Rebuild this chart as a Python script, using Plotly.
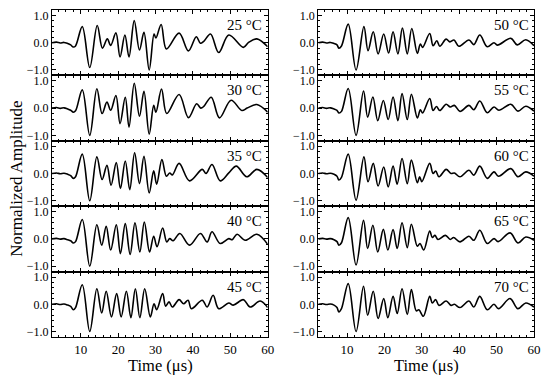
import plotly.graph_objects as go
from plotly.subplots import make_subplots

# ---- data ----
T25 = [2.3, 3.5, 4.5, 5.5, 6.5, 7.3, 8.0, 8.6, 10.4, 12.4, 14.4, 15.8, 17.1, 18.0, 19.4, 20.5, 21.8, 22.9, 24.3, 25.7, 26.9, 28.3, 29.6, 30.1, 31.5, 32.9, 36.3, 38.8, 40.9, 42.0, 42.9, 44.7, 46.9, 49.6, 53.5, 54.9, 57.1, 60]
A25 = [0.0, 0.02, -0.01, 0.01, -0.03, -0.08, -0.16, -0.12, 0.59, -0.91, 0.63, -0.2, 0.14, -0.1, 0.36, -0.52, 0.28, -0.52, 0.81, -0.27, 0.38, -1.0, 0.32, 0.17, 0.67, -0.23, 0.35, -0.3, 0.22, -0.02, 0.05, 0.32, -0.36, 0.28, -0.17, 0.01, 0.14, -0.15]

T30 = [2.3, 3.5, 4.5, 5.5, 6.5, 7.3, 8.0, 8.6, 10.4, 12.4, 14.3, 15.7, 17.0, 18.0, 19.4, 20.5, 21.9, 22.9, 24.3, 25.7, 26.9, 28.3, 29.5, 30.1, 31.6, 33.0, 36.3, 38.8, 41.0, 42.1, 42.9, 44.9, 47.1, 50.2, 53.1, 54.5, 57.1, 60]
A30 = [0.0, 0.02, -0.01, 0.01, -0.03, -0.08, -0.15, -0.1, 0.67, -1.0, 0.71, -0.2, 0.22, -0.08, 0.46, -0.57, 0.4, -0.7, 0.91, -0.3, 0.62, -0.96, 0.1, -0.15, 0.7, -0.2, 0.5, -0.35, 0.16, 0.0, 0.06, 0.4, -0.36, 0.29, -0.09, 0.0, 0.13, -0.15]

T35 = [2.3, 3.5, 4.5, 5.5, 6.5, 7.3, 8.0, 8.6, 10.4, 12.4, 14.3, 15.7, 17.0, 18.1, 19.5, 20.6, 21.9, 23.1, 24.4, 25.7, 26.9, 28.3, 29.5, 30.3, 31.7, 32.9, 33.8, 34.5, 36.3, 39.1, 42.5, 43.5, 45.1, 47.3, 49.6, 51.6, 54.4, 57.1, 60]
A35 = [0.0, 0.02, -0.01, 0.01, -0.03, -0.08, -0.18, -0.12, 0.71, -1.0, 0.61, -0.22, 0.3, -0.43, 0.4, -0.55, 0.46, -0.59, 0.76, -0.37, 0.63, -0.71, 0.1, -0.39, 0.51, -0.1, 0.02, -0.05, 0.37, -0.27, 0.15, 0.0, 0.33, -0.27, 0.02, 0.27, -0.12, 0.15, -0.15]

T40 = [2.3, 3.5, 4.5, 5.5, 6.5, 7.3, 8.0, 8.6, 10.4, 12.4, 14.3, 15.6, 16.8, 18.0, 19.5, 20.6, 21.9, 23.2, 24.5, 25.8, 27.0, 28.4, 29.5, 30.4, 31.9, 33.0, 33.8, 34.7, 36.5, 39.1, 42.0, 43.8, 45.1, 47.3, 49.6, 50.5, 51.8, 54.0, 57.1, 60]
A40 = [0.0, 0.02, -0.01, 0.01, -0.03, -0.07, -0.15, -0.1, 0.71, -1.0, 0.52, -0.23, 0.46, -0.41, 0.52, -0.54, 0.56, -0.57, 0.59, -0.48, 0.62, -0.48, 0.1, -0.29, 0.4, -0.11, 0.01, -0.07, 0.2, -0.23, 0.2, -0.11, 0.26, -0.17, 0.01, -0.03, 0.17, -0.05, 0.17, -0.2]

T45 = [2.3, 3.5, 4.5, 5.5, 6.5, 7.3, 8.0, 8.6, 10.4, 12.4, 14.3, 15.6, 16.8, 18.2, 19.6, 20.8, 22.2, 23.4, 24.6, 25.8, 27.1, 28.6, 29.6, 30.3, 31.9, 32.7, 33.6, 34.5, 36.3, 37.5, 38.7, 39.6, 42.5, 43.8, 45.4, 46.9, 49.6, 50.8, 53.5, 55.3, 58.0, 60]
A45 = [0.0, 0.02, -0.01, 0.01, -0.03, -0.08, -0.2, -0.12, 0.72, -1.0, 0.57, -0.32, 0.48, -0.46, 0.39, -0.46, 0.48, -0.49, 0.57, -0.49, 0.57, -0.46, 0.02, -0.2, 0.39, -0.07, 0.09, -0.1, 0.17, 0.02, 0.15, -0.16, 0.15, -0.1, 0.33, -0.16, 0.05, -0.03, 0.17, -0.1, 0.12, -0.12]

T50 = [2.3, 3.5, 4.5, 5.5, 6.5, 7.3, 7.8, 8.5, 10.3, 12.4, 14.5, 15.6, 17.0, 18.3, 19.8, 21.1, 22.3, 23.6, 24.8, 26.1, 27.3, 28.8, 29.6, 30.2, 32.1, 33.0, 34.0, 34.8, 36.5, 37.5, 38.6, 39.9, 42.6, 43.9, 45.5, 47.5, 49.3, 50.2, 53.8, 55.5, 57.8, 60]
A50 = [0.0, 0.02, -0.01, 0.01, -0.03, -0.08, -0.2, -0.12, 0.68, -1.0, 0.59, -0.29, 0.4, -0.41, 0.32, -0.38, 0.4, -0.41, 0.54, -0.41, 0.52, -0.39, -0.05, -0.17, 0.34, -0.11, 0.07, -0.13, 0.13, 0.03, 0.1, -0.13, 0.1, -0.07, 0.28, -0.15, 0.0, -0.09, 0.16, -0.08, 0.11, -0.11]

T55 = [2.3, 3.5, 4.5, 5.5, 6.5, 7.3, 7.8, 8.5, 10.3, 12.4, 14.4, 15.5, 16.9, 18.2, 19.7, 21.0, 22.3, 23.6, 24.7, 26.1, 27.2, 28.8, 29.6, 30.2, 32.1, 33.0, 33.9, 34.8, 36.5, 37.6, 38.7, 40.2, 42.6, 43.9, 45.5, 47.5, 49.3, 50.6, 53.8, 55.7, 57.8, 60]
A55 = [0.0, 0.02, -0.01, 0.01, -0.03, -0.08, -0.18, -0.12, 0.72, -1.0, 0.63, -0.33, 0.41, -0.46, 0.28, -0.42, 0.41, -0.46, 0.53, -0.42, 0.51, -0.36, -0.06, -0.18, 0.35, -0.09, 0.06, -0.09, 0.14, 0.04, 0.1, -0.12, 0.1, -0.06, 0.26, -0.17, 0.04, -0.08, 0.14, -0.11, 0.07, -0.11]

T60 = [2.3, 3.5, 4.5, 5.5, 6.5, 7.3, 7.8, 8.5, 10.3, 12.4, 14.5, 15.6, 17.0, 18.3, 19.8, 21.0, 22.3, 23.4, 24.7, 26.1, 27.2, 28.8, 29.4, 30.0, 32.1, 33.0, 33.7, 34.6, 36.5, 37.8, 38.7, 40.2, 42.6, 43.9, 45.5, 47.5, 49.3, 50.5, 53.8, 55.7, 57.8, 60]
A60 = [0.0, 0.02, -0.01, 0.01, -0.03, -0.1, -0.24, -0.14, 0.71, -0.98, 0.61, -0.3, 0.37, -0.46, 0.24, -0.49, 0.27, -0.39, 0.55, -0.37, 0.49, -0.34, -0.12, -0.3, 0.37, 0.0, 0.09, -0.12, 0.15, 0.0, 0.02, -0.12, 0.12, -0.06, 0.27, -0.18, 0.06, -0.1, 0.18, -0.12, 0.06, -0.1]

T65 = [2.3, 3.5, 4.5, 5.5, 6.5, 7.3, 7.8, 8.5, 10.3, 12.4, 14.4, 15.5, 16.9, 18.2, 19.7, 20.9, 22.3, 23.4, 24.7, 26.1, 27.2, 28.8, 29.5, 30.5, 32.1, 32.8, 33.5, 34.3, 36.3, 37.6, 38.5, 40.2, 42.6, 43.9, 45.5, 47.5, 49.3, 50.4, 53.6, 55.7, 57.8, 60]
A65 = [0.0, 0.02, -0.01, 0.01, -0.03, -0.1, -0.23, -0.14, 0.78, -0.96, 0.68, -0.35, 0.5, -0.48, 0.35, -0.41, 0.34, -0.35, 0.59, -0.32, 0.54, -0.27, -0.17, -0.41, 0.29, 0.05, 0.13, -0.02, 0.13, -0.02, 0.05, -0.11, 0.1, -0.05, 0.32, -0.17, 0.01, -0.1, 0.22, -0.15, 0.07, -0.05]

T70 = [2.3, 3.5, 4.5, 5.5, 6.5, 7.3, 7.8, 8.5, 10.3, 12.4, 14.4, 15.5, 17.0, 18.3, 19.8, 20.9, 22.3, 23.4, 24.7, 26.1, 27.2, 28.5, 29.2, 30.4, 32.1, 32.8, 33.7, 34.6, 36.5, 37.8, 38.7, 40.2, 42.6, 43.9, 45.5, 47.5, 49.3, 50.5, 53.6, 55.7, 57.8, 60]
A70 = [0.0, 0.02, -0.01, 0.01, -0.03, -0.12, -0.28, -0.16, 0.76, -1.0, 0.66, -0.4, 0.48, -0.52, 0.21, -0.49, 0.29, -0.34, 0.57, -0.37, 0.54, -0.24, -0.2, -0.44, 0.29, 0.05, 0.17, -0.04, 0.12, -0.04, 0.0, -0.12, 0.12, -0.1, 0.29, -0.2, 0.0, -0.16, 0.21, -0.16, 0.05, -0.1]

LABELS = ["25 °C", "30 °C", "35 °C", "40 °C", "45 °C", "50 °C", "55 °C", "60 °C", "65 °C", "70 °C"]
SERIES = [(T25, A25), (T30, A30), (T35, A35), (T40, A40), (T45, A45),
          (T50, A50), (T55, A55), (T60, A60), (T65, A65), (T70, A70)]
X_TICKS = [10, 20, 30, 40, 50, 60]
Y_TICKS = [-1.0, 0.0, 1.0]
Y_TICK_TEXT = ["\u22121.0", "0.0", "1.0"]
X_TITLE = "Time (\u03bcs)"
Y_TITLE = "Normalized Amplitude"

FONT = "Liberation Serif"

fig = make_subplots(rows=5, cols=2, vertical_spacing=0, horizontal_spacing=0.105)

for i, ((t, a), lab) in enumerate(zip(SERIES, LABELS)):
    col = 1 if i < 5 else 2
    row = i % 5 + 1
    fig.add_trace(go.Scatter(x=t, y=a, mode="lines",
                             line=dict(color="black", width=1.6, shape="spline", smoothing=1.0),
                             showlegend=False, hoverinfo="skip"), row=row, col=col)
    idx = (row - 1) * 2 + col
    xr = "x domain" if idx == 1 else f"x{idx} domain"
    yr = "y domain" if idx == 1 else f"y{idx} domain"
    fig.add_annotation(text=lab, xref=xr, yref=yr, x=0.985, y=0.77,
                       xanchor="right", yanchor="middle", showarrow=False,
                       font=dict(family=FONT, size=15, color="black"))

axis_common = dict(showline=True, linecolor="black", linewidth=1.2, mirror="ticks",
                   ticks="inside", ticklen=4, tickwidth=1, tickcolor="black",
                   showgrid=False, zeroline=False)

for r in range(1, 6):
    for c in (1, 2):
        fig.update_xaxes(row=r, col=c, range=[2.3, 60], tickvals=X_TICKS,
                         showticklabels=(r == 5),
                         tickfont=dict(family=FONT, size=13, color="black"),
                         minor=dict(dtick=2, tick0=0, ticks="inside", ticklen=2, tickcolor="black"),
                         **axis_common)
        fig.update_yaxes(row=r, col=c, range=[-1.2, 1.2], tickvals=Y_TICKS, ticktext=Y_TICK_TEXT,
                         tickfont=dict(family=FONT, size=12, color="black"),
                         minor=dict(dtick=0.2, tick0=0, ticks="inside", ticklen=2, tickcolor="black"),
                         **axis_common)

# x titles under each column
for xc in (0.2243, 0.7765):
    fig.add_annotation(text=X_TITLE, xref="paper", yref="paper", x=xc, y=-0.088,
                       xanchor="center", yanchor="middle", showarrow=False,
                       font=dict(family=FONT, size=16.5, color="black"))

fig.add_annotation(text=Y_TITLE, xref="paper", yref="paper",
                   x=-0.074, y=0.485, xanchor="center", yanchor="middle", textangle=-90,
                   showarrow=False, font=dict(family=FONT, size=17, color="black"))

fig.update_layout(width=550, height=379, margin=dict(l=52, r=12, t=9, b=42),
                  plot_bgcolor="white", paper_bgcolor="white",
                  font=dict(family=FONT, color="black"))

fig.write_html("out.html", config={"displayModeBar": False},
               post_script="document.body.style.margin='0';document.body.style.padding='0';")
